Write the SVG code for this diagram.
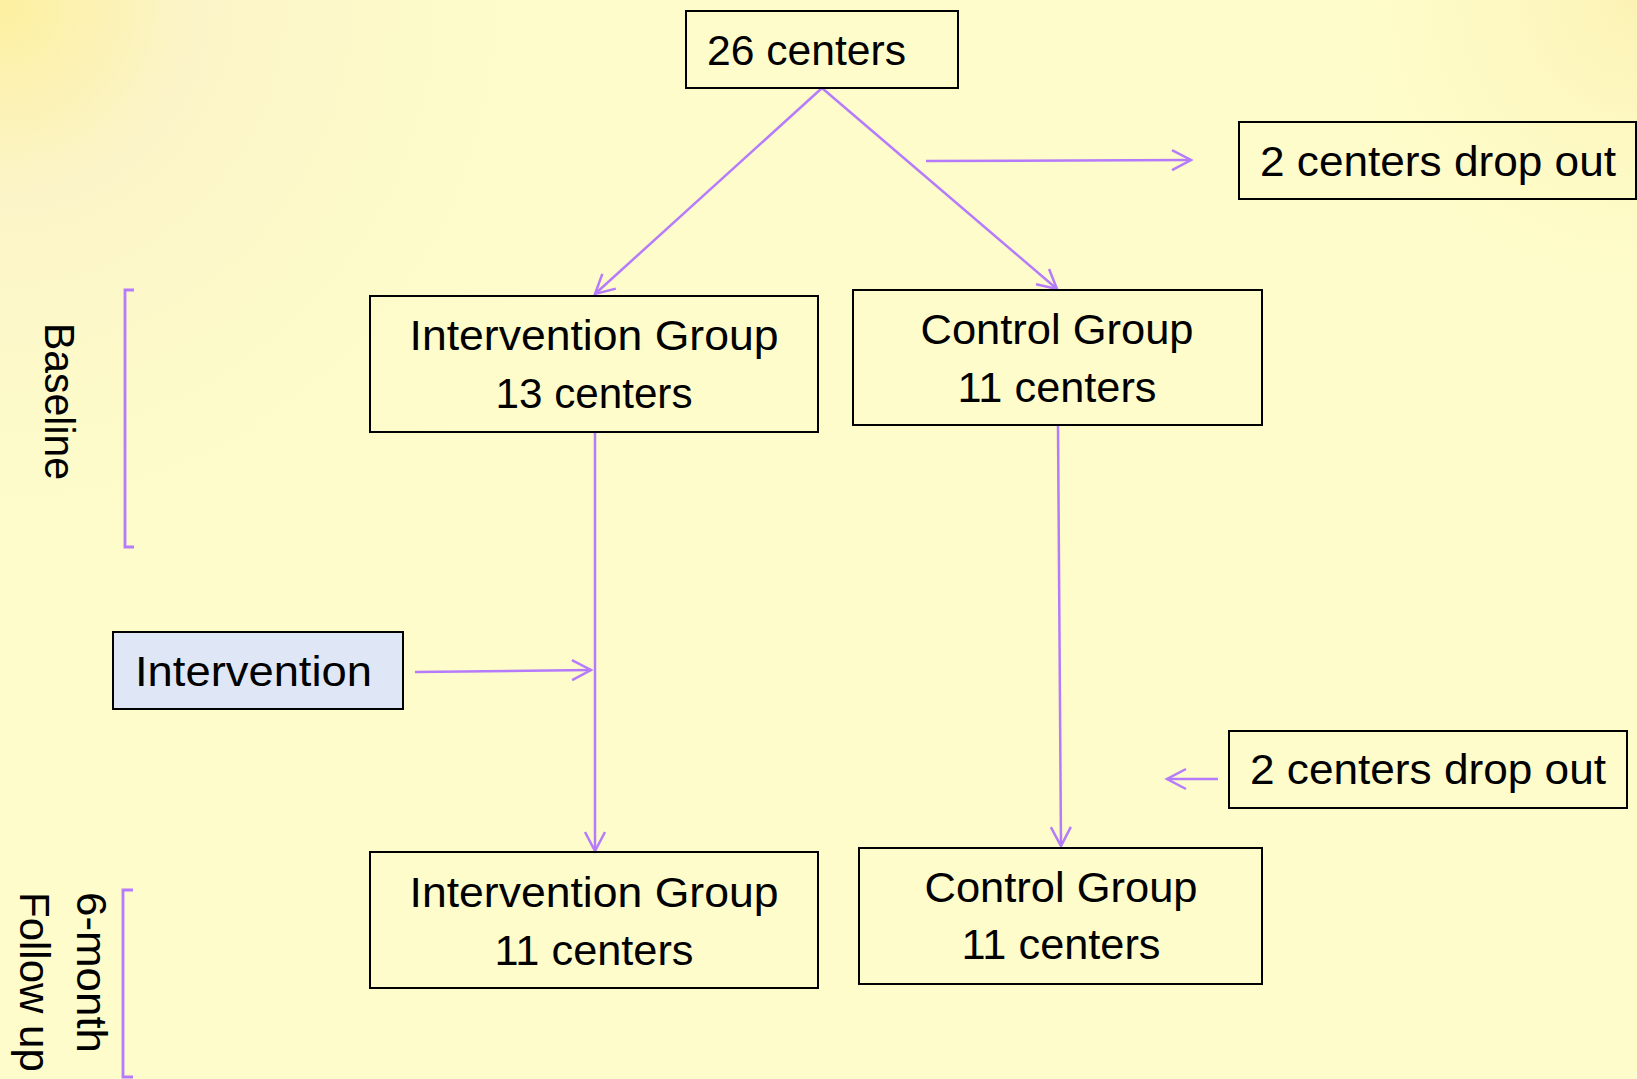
<svg xmlns="http://www.w3.org/2000/svg" width="1637" height="1079" viewBox="0 0 1637 1079">
<defs>
<radialGradient id="cornerTL" cx="0" cy="0" r="650" gradientUnits="userSpaceOnUse">
<stop offset="0" stop-color="#fdf0a0"/>
<stop offset="0.3" stop-color="#fbf4c8"/>
<stop offset="1" stop-color="#fefcca" stop-opacity="0"/>
</radialGradient>
<radialGradient id="cornerTR" cx="1637" cy="0" r="350" gradientUnits="userSpaceOnUse">
<stop offset="0" stop-color="#fcf2b4"/>
<stop offset="1" stop-color="#fefcca" stop-opacity="0"/>
</radialGradient>
<marker id="arrow" markerUnits="userSpaceOnUse" markerWidth="24" markerHeight="24" viewBox="0 0 24 24" refX="21" refY="12" orient="auto">
<path d="M2,2 L21,12 L2,22" fill="none" stroke="#b57bfb" stroke-width="2.5"/>
</marker>
<style>
.box { fill: none; stroke: #000; stroke-width: 2; }
.blue { fill: #dfe7f6; stroke: #000; stroke-width: 2; }
.t { font-family: "Liberation Sans", Arial, sans-serif; font-size: 42px; fill: #000; }
.c { text-anchor: middle; }
.conn { fill: none; stroke: #b57bfb; stroke-width: 2.5; }
.br { fill: none; stroke: #b57bfb; stroke-width: 2.8; }
</style>
</defs>
<rect x="0" y="0" width="1637" height="1079" fill="#fefcca"/>
<rect x="0" y="0" width="1637" height="1079" fill="url(#cornerTL)"/>
<rect x="0" y="0" width="1637" height="1079" fill="url(#cornerTR)"/>

<g id="connectors">
<line class="conn" x1="822" y1="88" x2="595" y2="294" marker-end="url(#arrow)"/>
<line class="conn" x1="822" y1="88" x2="1057" y2="289" marker-end="url(#arrow)"/>
<line class="conn" x1="926" y1="161" x2="1191" y2="160" marker-end="url(#arrow)"/>
<line class="conn" x1="595" y1="432" x2="595" y2="851" marker-end="url(#arrow)"/>
<line class="conn" x1="415" y1="672" x2="591" y2="670" marker-end="url(#arrow)"/>
<line class="conn" x1="1058" y1="426" x2="1061" y2="846" marker-end="url(#arrow)"/>
<line class="conn" x1="1218" y1="779" x2="1167" y2="779" marker-end="url(#arrow)"/>
</g>

<g id="bracket-baseline">
<path class="br" d="M134,290 H125 V547 H134"/>
<text class="t" transform="translate(45,323) rotate(90)" textLength="157" lengthAdjust="spacingAndGlyphs">Baseline</text>
</g>
<g id="bracket-followup">
<path class="br" d="M133,890 H123 V1077 H133"/>
<text class="t" transform="translate(77,892) rotate(90)" textLength="161" lengthAdjust="spacingAndGlyphs">6-month</text>
<text class="t" transform="translate(20,892) rotate(90)">Follow up</text>
</g>

<g id="n-26">
<rect class="box" x="686" y="11" width="272" height="77"/>
<text class="t" x="707" y="65" textLength="199" lengthAdjust="spacingAndGlyphs">26 centers</text>
</g>
<g id="n-drop1">
<rect class="box" x="1239" y="122" width="397" height="77"/>
<text class="t" x="1260" y="176" textLength="356" lengthAdjust="spacingAndGlyphs">2 centers drop out</text>
</g>
<g id="n-int1">
<rect class="box" x="370" y="296" width="448" height="136"/>
<text class="t c" x="594" y="350" textLength="369" lengthAdjust="spacingAndGlyphs">Intervention Group</text>
<text class="t c" x="594" y="408" textLength="197" lengthAdjust="spacingAndGlyphs">13 centers</text>
</g>
<g id="n-ctl1">
<rect class="box" x="853" y="290" width="409" height="135"/>
<text class="t c" x="1057" y="344" textLength="273" lengthAdjust="spacingAndGlyphs">Control Group</text>
<text class="t c" x="1057" y="402" textLength="199" lengthAdjust="spacingAndGlyphs">11 centers</text>
</g>
<g id="n-intervention">
<rect class="blue" x="113" y="632" width="290" height="77"/>
<text class="t" x="135" y="686" textLength="237" lengthAdjust="spacingAndGlyphs">Intervention</text>
</g>
<g id="n-drop2">
<rect class="box" x="1229" y="731" width="398" height="77"/>
<text class="t" x="1250" y="784" textLength="356" lengthAdjust="spacingAndGlyphs">2 centers drop out</text>
</g>
<g id="n-int2">
<rect class="box" x="370" y="852" width="448" height="136"/>
<text class="t c" x="594" y="907" textLength="369" lengthAdjust="spacingAndGlyphs">Intervention Group</text>
<text class="t c" x="594" y="965" textLength="199" lengthAdjust="spacingAndGlyphs">11 centers</text>
</g>
<g id="n-ctl2">
<rect class="box" x="859" y="848" width="403" height="136"/>
<text class="t c" x="1061" y="902" textLength="273" lengthAdjust="spacingAndGlyphs">Control Group</text>
<text class="t c" x="1061" y="959" textLength="199" lengthAdjust="spacingAndGlyphs">11 centers</text>
</g>
</svg>
